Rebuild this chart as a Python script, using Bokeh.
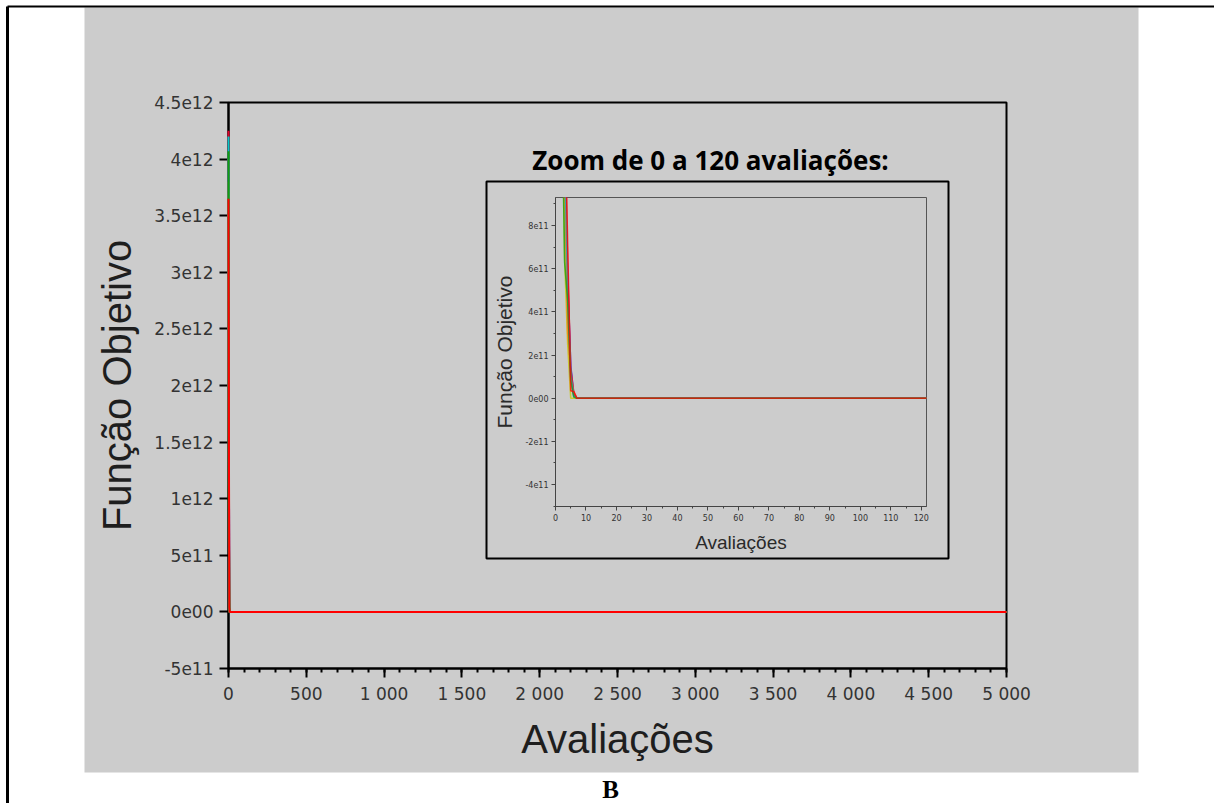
from bokeh.plotting import figure
from bokeh.models import Range1d, FixedTicker, InlineStyleSheet
from bokeh.embed import file_html
from bokeh.resources import INLINE
from bokeh.core.properties import value

# ---------------- data ----------------
evaluations = [0, 1, 2, 3, 4, 5, 6, 7, 5000]

run_blue = [3.90e12, 3.10e12, 2.00e12, 1.10e12, 5.5e11, 1.5e11, 2.0e10, 0.0, 0.0]
run_yellow = [3.70e12, 2.80e12, 1.60e12, 6.5e11, 2.5e11, 0.0, 0.0, 0.0, 0.0]
run_magenta = [4.00e12, 3.30e12, 2.20e12, 1.20e12, 4.0e11, 1.0e11, 1.0e10, 0.0, 0.0]
run_orange = [3.80e12, 3.00e12, 1.90e12, 1.00e12, 3.0e11, 1.2e11, 3.0e10, 0.0, 0.0]
run_crimson = [4.25e12, 3.50e12, 2.30e12, 1.30e12, 6.0e11, 1.4e11, 1.5e10, 0.0, 0.0]
run_cyan = [4.20e12, 3.40e12, 2.10e12, 1.15e12, 5.0e11, 1.0e11, 1.0e10, 0.0, 0.0]
run_green = [4.07e12, 3.20e12, 1.50e12, 6.3e11, 4.5e11, 8.0e10, 5.0e9, 0.0, 0.0]
run_red = [3.65e12, 2.90e12, 2.40e12, 1.40e12, 7.0e11, 3.5e10, 3.0e10, 0.0, 0.0]

run_names = ["blue", "yellow", "magenta", "orange", "crimson", "cyan", "green", "red"]
run_values = [run_blue, run_yellow, run_magenta, run_orange, run_crimson,
              run_cyan, run_green, run_red]
run_colors = ["#0000ff", "#c8c800", "#ff00ff", "#ff8000", "#e0002a",
              "#00c8c8", "#10a010", "#ff0000"]

main_x_ticks = [0, 500, 1000, 1500, 2000, 2500, 3000, 3500, 4000, 4500, 5000]
main_x_labels = ["0", "500", "1 000", "1 500", "2 000", "2 500", "3 000",
                 "3 500", "4 000", "4 500", "5 000"]
main_y_ticks = [-5e11, 0, 5e11, 1e12, 1.5e12, 2e12, 2.5e12, 3e12, 3.5e12, 4e12, 4.5e12]
main_y_labels = ["-5e11", "0e00", "5e11", "1e12", "1.5e12", "2e12", "2.5e12",
                 "3e12", "3.5e12", "4e12", "4.5e12"]

inset_x_ticks = [0, 10, 20, 30, 40, 50, 60, 70, 80, 90, 100, 110, 120]
inset_x_labels = ["0", "10", "20", "30", "40", "50", "60", "70", "80", "90",
                  "100", "110", "120"]
inset_y_ticks = [-4e11, -2e11, 0, 2e11, 4e11, 6e11, 8e11]
inset_y_labels = ["-4e11", "-2e11", "0e00", "2e11", "4e11", "6e11", "8e11"]

title_main_x = "Avaliações"
title_main_y = "Função Objetivo"
inset_title = "Zoom de 0 a 120 avaliações:"
panel_letter = "B"

GREY = "#cccccc"
TICK_FONT = "DejaVu Sans"
LABEL_FONT = "Liberation Sans"


def abs_css(left, top):
    return InlineStyleSheet(css=":host { position: absolute !important; left: %dpx !important; top: %dpx !important; }" % (left, top))


# ---------------- background page ----------------
bg = figure(width=1214, height=803, x_range=Range1d(0, 1214), y_range=Range1d(803, 0),
            output_backend="svg", toolbar_location=None, min_border=0,
            background_fill_color="white", border_fill_color="white")
bg.stylesheets = [abs_css(0, 0)]
bg.axis.visible = False
bg.grid.visible = False
bg.outline_line_color = None
bg.quad(left=84, right=1138, top=7, bottom=772, fill_color=GREY, line_color=None)
bg.segment(x0=[7, 7], y0=[6, 6], x1=[1214, 7], y1=[6, 803], line_color="black",
           line_width=[2, 3])
bg.quad(left=486, right=948, top=181, bottom=558, fill_color=None,
        line_color="black", line_width=2)
bg.text(x=[710], y=[159], text=[inset_title], text_font=value("Open Sans"),
        text_font_style="bold", text_font_size="26px", text_color="black",
        text_align="center", text_baseline="middle")
bg.text(x=[610], y=[789], text=[panel_letter], text_font=value("Liberation Serif"),
        text_font_style="bold", text_font_size="25px", text_color="black",
        text_align="center", text_baseline="middle")

# ---------------- main chart ----------------
p = figure(width=1054, height=765, x_range=Range1d(0, 5000), y_range=Range1d(-5e11, 4.5e12),
           output_backend="svg", toolbar_location=None,
           min_border_left=144, min_border_right=132, min_border_top=95, min_border_bottom=104,
           background_fill_alpha=0, border_fill_alpha=0)
p.stylesheets = [abs_css(84, 7)]
p.grid.visible = False
p.outline_line_color = "black"
p.outline_line_width = 2

for vals, col in zip(run_values, run_colors):
    p.line(evaluations, vals, line_color=col, line_width=2, level="overlay")

p.xaxis.ticker = FixedTicker(ticks=main_x_ticks, minor_ticks=list(range(0, 5001, 100)))
p.xaxis.major_label_overrides = dict(zip(main_x_ticks, main_x_labels))
p.yaxis.ticker = FixedTicker(ticks=main_y_ticks, minor_ticks=[])
p.yaxis.major_label_overrides = dict(zip(main_y_ticks, main_y_labels))
for ax in (p.xaxis[0], p.yaxis[0]):
    ax.axis_line_color = "black"
    ax.axis_line_width = 2
    ax.major_tick_line_color = "black"
    ax.major_tick_line_width = 2
    ax.minor_tick_line_color = "black"
    ax.minor_tick_line_width = 2
    ax.major_tick_in = 0
    ax.minor_tick_in = 0
    ax.major_label_text_font = TICK_FONT
    ax.major_label_text_font_size = "17px"
    ax.major_label_text_color = "#333333"
    ax.axis_label_text_font = LABEL_FONT
    ax.axis_label_text_font_size = "40px"
    ax.axis_label_text_font_style = "normal"
    ax.axis_label_text_color = "#1e1e1e"
p.xaxis.major_tick_out = 9
p.xaxis.minor_tick_out = 4
p.yaxis.major_tick_out = 9
p.xaxis.axis_label = title_main_x
p.yaxis.axis_label = title_main_y
p.xaxis.major_label_standoff = 6
p.yaxis.major_label_standoff = 6
p.xaxis.axis_label_standoff = 10
p.yaxis.axis_label_standoff = 12

# ---------------- inset chart ----------------
q = figure(width=462, height=377, x_range=Range1d(0, 121.7), y_range=Range1d(-5.02e11, 9.3e11),
           output_backend="svg", toolbar_location=None,
           min_border_left=69, min_border_right=22, min_border_top=16, min_border_bottom=52,
           background_fill_alpha=0, border_fill_alpha=0)
q.stylesheets = [abs_css(486, 181)]
q.grid.visible = False
q.outline_line_color = "#555555"
q.outline_line_width = 1

for vals, col in zip(run_values, run_colors):
    q.line(evaluations, vals, line_color=col, line_width=1.6, line_alpha=0.75)

q.xaxis.ticker = FixedTicker(ticks=inset_x_ticks, minor_ticks=list(range(0, 125, 5)))
q.xaxis.major_label_overrides = dict(zip(inset_x_ticks, inset_x_labels))
q.yaxis.ticker = FixedTicker(ticks=inset_y_ticks,
                             minor_ticks=[-5e11, -3e11, -1e11, 1e11, 3e11, 5e11, 7e11, 9e11])
q.yaxis.major_label_overrides = dict(zip(inset_y_ticks, inset_y_labels))
for ax in (q.xaxis[0], q.yaxis[0]):
    ax.axis_line_color = "#444444"
    ax.axis_line_width = 1
    ax.major_tick_line_color = "#444444"
    ax.minor_tick_line_color = "#444444"
    ax.major_tick_in = 0
    ax.minor_tick_in = 0
    ax.major_tick_out = 4
    ax.minor_tick_out = 2
    ax.major_label_text_font = TICK_FONT
    ax.major_label_text_font_size = "8px"
    ax.major_label_text_color = "#333333"
    ax.major_label_standoff = 3
    ax.axis_label_text_font = LABEL_FONT
    ax.axis_label_text_font_style = "normal"
    ax.axis_label_text_color = "#2a2a2a"
q.xaxis.axis_label = title_main_x
q.yaxis.axis_label = title_main_y
q.xaxis.axis_label_text_font_size = "19px"
q.yaxis.axis_label_text_font_size = "21px"
q.xaxis.axis_label_standoff = 8
q.yaxis.axis_label_standoff = 6

open("out.html", "w").write(file_html([bg, p, q], INLINE))
